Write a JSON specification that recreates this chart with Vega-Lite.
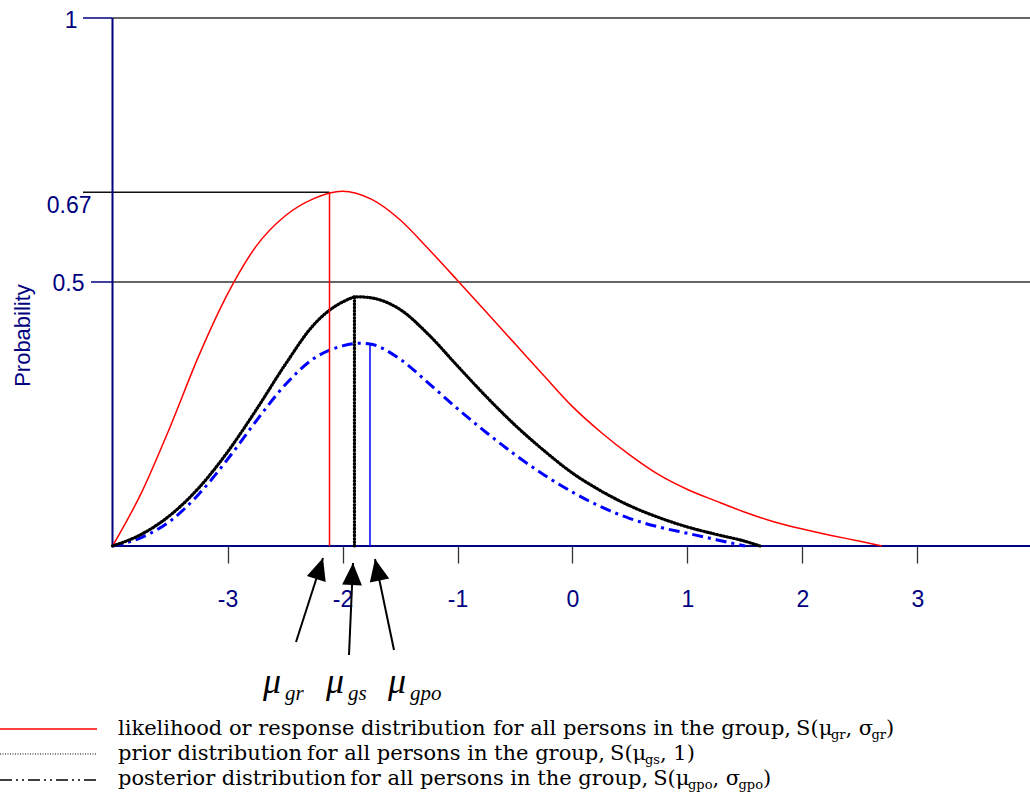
{
  "$schema": "https://vega.github.io/schema/vega-lite/v6.json",
  "width": 1030,
  "height": 804,
  "autosize": {"type": "none"},
  "padding": 0,
  "background": "white",
  "config": {"view": {"stroke": null}},
  "datasets": {
    "curves": [
      {"series": "likelihood", "x": -4.0, "y": 0.0},
      {"series": "likelihood", "x": -3.75, "y": 0.1},
      {"series": "likelihood", "x": -3.5, "y": 0.225},
      {"series": "likelihood", "x": -3.25, "y": 0.36},
      {"series": "likelihood", "x": -3.0, "y": 0.477},
      {"series": "likelihood", "x": -2.75, "y": 0.568},
      {"series": "likelihood", "x": -2.5, "y": 0.625},
      {"series": "likelihood", "x": -2.25, "y": 0.658},
      {"series": "likelihood", "x": -2.0, "y": 0.672},
      {"series": "likelihood", "x": -1.75, "y": 0.657},
      {"series": "likelihood", "x": -1.5, "y": 0.618},
      {"series": "likelihood", "x": -1.25, "y": 0.562},
      {"series": "likelihood", "x": -1.0, "y": 0.503},
      {"series": "likelihood", "x": -0.75, "y": 0.443},
      {"series": "likelihood", "x": -0.5, "y": 0.383},
      {"series": "likelihood", "x": -0.25, "y": 0.323},
      {"series": "likelihood", "x": 0.0, "y": 0.264},
      {"series": "likelihood", "x": 0.25, "y": 0.215},
      {"series": "likelihood", "x": 0.5, "y": 0.172},
      {"series": "likelihood", "x": 0.75, "y": 0.135},
      {"series": "likelihood", "x": 1.0, "y": 0.107},
      {"series": "likelihood", "x": 1.25, "y": 0.085},
      {"series": "likelihood", "x": 1.5, "y": 0.064},
      {"series": "likelihood", "x": 1.75, "y": 0.046},
      {"series": "likelihood", "x": 2.0, "y": 0.032},
      {"series": "likelihood", "x": 2.25, "y": 0.02},
      {"series": "likelihood", "x": 2.5, "y": 0.009},
      {"series": "likelihood", "x": 2.69, "y": 0.0},
      {"series": "prior", "x": -4.0, "y": 0.0},
      {"series": "prior", "x": -3.75, "y": 0.022},
      {"series": "prior", "x": -3.5, "y": 0.058},
      {"series": "prior", "x": -3.25, "y": 0.11},
      {"series": "prior", "x": -3.0, "y": 0.178},
      {"series": "prior", "x": -2.75, "y": 0.258},
      {"series": "prior", "x": -2.5, "y": 0.343},
      {"series": "prior", "x": -2.25, "y": 0.419},
      {"series": "prior", "x": -2.0, "y": 0.462},
      {"series": "prior", "x": -1.87, "y": 0.472},
      {"series": "prior", "x": -1.75, "y": 0.47},
      {"series": "prior", "x": -1.5, "y": 0.448},
      {"series": "prior", "x": -1.25, "y": 0.4},
      {"series": "prior", "x": -1.0, "y": 0.341},
      {"series": "prior", "x": -0.75, "y": 0.283},
      {"series": "prior", "x": -0.5, "y": 0.229},
      {"series": "prior", "x": -0.25, "y": 0.181},
      {"series": "prior", "x": 0.0, "y": 0.138},
      {"series": "prior", "x": 0.25, "y": 0.104},
      {"series": "prior", "x": 0.5, "y": 0.076},
      {"series": "prior", "x": 0.75, "y": 0.054},
      {"series": "prior", "x": 1.0, "y": 0.036},
      {"series": "prior", "x": 1.25, "y": 0.022},
      {"series": "prior", "x": 1.5, "y": 0.009},
      {"series": "prior", "x": 1.63, "y": 0.0},
      {"series": "posterior", "x": -4.0, "y": 0.0},
      {"series": "posterior", "x": -3.75, "y": 0.016},
      {"series": "posterior", "x": -3.5, "y": 0.047},
      {"series": "posterior", "x": -3.25, "y": 0.098},
      {"series": "posterior", "x": -3.0, "y": 0.164},
      {"series": "posterior", "x": -2.75, "y": 0.237},
      {"series": "posterior", "x": -2.5, "y": 0.305},
      {"series": "posterior", "x": -2.25, "y": 0.355},
      {"series": "posterior", "x": -2.0, "y": 0.379},
      {"series": "posterior", "x": -1.85, "y": 0.384},
      {"series": "posterior", "x": -1.75, "y": 0.382},
      {"series": "posterior", "x": -1.5, "y": 0.354},
      {"series": "posterior", "x": -1.25, "y": 0.308},
      {"series": "posterior", "x": -1.0, "y": 0.26},
      {"series": "posterior", "x": -0.75, "y": 0.215},
      {"series": "posterior", "x": -0.5, "y": 0.173},
      {"series": "posterior", "x": -0.25, "y": 0.135},
      {"series": "posterior", "x": 0.0, "y": 0.102},
      {"series": "posterior", "x": 0.25, "y": 0.074},
      {"series": "posterior", "x": 0.5, "y": 0.052},
      {"series": "posterior", "x": 0.75, "y": 0.036},
      {"series": "posterior", "x": 1.0, "y": 0.024},
      {"series": "posterior", "x": 1.25, "y": 0.012},
      {"series": "posterior", "x": 1.5, "y": 0.0}
    ],
    "grid": [
      {"x": -4, "x2": 3.9783, "y": 1, "y2": 1},
      {"x": -4, "x2": 3.9783, "y": 0.5, "y2": 0.5}
    ],
    "refline": [
      {"x": -4.2565, "x2": -2.113, "y": 0.67, "y2": 0.67}
    ],
    "navyticks": [
      {"x": -4.2565, "x2": -4, "y": 1, "y2": 1},
      {"x": -4.187, "x2": -4, "y": 0.5, "y2": 0.5}
    ],
    "axislines": [
      {"x": -4, "x2": 3.9783, "y": 0, "y2": 0},
      {"x": -4, "x2": -4, "y": 0, "y2": 1}
    ],
    "markerRed": [{"x": -2.113, "x2": -2.113, "y": 0, "y2": 0.67}],
    "markerBlack": [{"x": -1.896, "x2": -1.896, "y": 0, "y2": 0.472}],
    "markerBlue": [{"x": -1.761, "x2": -1.761, "y": 0, "y2": 0.381}],
    "shafts": [
      {"x": -2.4043, "y": -0.1818, "x2": -2.1696, "y2": -0.0227},
      {"x": -1.9435, "y": -0.2064, "x2": -1.9087, "y2": -0.0322},
      {"x": -1.5522, "y": -0.197, "x2": -1.7174, "y2": -0.0246}
    ],
    "heads": [
      {"x": -2.1696, "y": -0.0227, "angle": 17.8},
      {"x": -1.9087, "y": -0.0322, "angle": 2.5},
      {"x": -1.7174, "y": -0.0246, "angle": 348.2}
    ],
    "mu": [
      {"x": -2.691, "y": -0.2784, "t": "μ"},
      {"x": -2.143, "y": -0.2784, "t": "μ"},
      {"x": -1.604, "y": -0.2784, "t": "μ"}
    ],
    "musub": [
      {"x": -2.5, "y": -0.2917, "t": "gr"},
      {"x": -1.952, "y": -0.2917, "t": "gs"},
      {"x": -1.413, "y": -0.2917, "t": "gpo"}
    ],
    "legRed": [{"x": -4.9783, "x2": -4.1348, "y": -0.3466, "y2": -0.3466}],
    "legDot": [{"x": -4.9783, "x2": -4.1348, "y": -0.3939, "y2": -0.3939}],
    "legDash": [{"x": -4.9783, "x2": -4.1087, "y": -0.4432, "y2": -0.4432}],
    "legText": [
      {"x": -3.9522, "y": -0.35795, "t": "likelihood or response distribution"},
      {"x": -0.6896, "y": -0.35795, "t": "for all persons in the group,"},
      {"x": 1.9443, "y": -0.35795, "t": "S(μ"},
      {"x": 2.3739, "y": -0.35795, "t": ", σ"},
      {"x": 2.7261, "y": -0.35795, "t": ")"},
      {"x": -3.9522, "y": -0.4053, "t": "prior distribution"},
      {"x": -2.3078, "y": -0.4053, "t": "for all persons in the group,"},
      {"x": 0.3261, "y": -0.4053, "t": "S(μ"},
      {"x": 0.7609, "y": -0.4053, "t": ", 1)"},
      {"x": -3.9522, "y": -0.45265, "t": "posterior distribution"},
      {"x": -1.9322, "y": -0.45265, "t": "for all persons in the group,"},
      {"x": 0.7017, "y": -0.45265, "t": "S(μ"},
      {"x": 1.2174, "y": -0.45265, "t": ", σ"},
      {"x": 1.6565, "y": -0.45265, "t": ")"}
    ],
    "legSub": [
      {"x": 2.2478, "y": -0.36553, "t": "gr"},
      {"x": 2.6, "y": -0.36553, "t": "gr"},
      {"x": 0.6304, "y": -0.41288, "t": "gs"},
      {"x": 1.0043, "y": -0.46023, "t": "gpo"},
      {"x": 1.4435, "y": -0.46023, "t": "gpo"}
    ]
  },
  "encoding": {
    "x": {
      "field": "x",
      "type": "quantitative",
      "scale": {"domain": [-4.9783, 3.9783], "nice": false, "zero": false},
      "axis": {
        "values": [-3, -2, -1, 0, 1, 2, 3],
        "offset": -258,
        "domain": false,
        "grid": false,
        "ticks": true,
        "tickSize": 17,
        "tickColor": "#333333",
        "tickWidth": 1.3,
        "labelExpr": "datum.value + ''",
        "labelFont": "Liberation Sans",
        "labelFontSize": 23,
        "labelColor": "#000080",
        "labelPadding": 36,
        "labelBaseline": "middle",
        "labelFlush": false,
        "labelOverlap": false,
        "title": null
      }
    },
    "y": {
      "field": "y",
      "type": "quantitative",
      "scale": {"domain": [-0.48864, 1.03409], "nice": false, "zero": false},
      "axis": {
        "values": [0.5, 0.67, 1],
        "offset": -112,
        "domain": false,
        "ticks": false,
        "grid": false,
        "labelExpr": "datum.value + ''",
        "labelFont": "Liberation Sans",
        "labelFontSize": 23,
        "labelColor": "#000080",
        "labelPadding": {"condition": [{"test": "datum.value == 1", "value": 35}, {"test": "datum.value == 0.5", "value": 28}], "value": 21},
        "labelOffset": {"condition": [{"test": "datum.value == 1", "value": 3}, {"test": "datum.value == 0.5", "value": 2}], "value": 13},
        "labelOverlap": false,
        "labelFlush": false,
        "title": "Probability",
        "titleFont": "Liberation Sans",
        "titleFontSize": 22,
        "titleFontWeight": "normal",
        "titleColor": "#000080",
        "titleX": -90,
        "titleY": 335,
        "titleAngle": -90,
        "titleAlign": "center",
        "titleBaseline": "middle"
      }
    }
  },
  "layer": [
    {"data": {"name": "grid"}, "mark": {"type": "rule", "color": "#333333", "strokeWidth": 1.3},
     "encoding": {"x2": {"field": "x2"}, "y2": {"field": "y2"}}},
    {"data": {"name": "refline"}, "mark": {"type": "rule", "color": "#111111", "strokeWidth": 1.3},
     "encoding": {"x2": {"field": "x2"}, "y2": {"field": "y2"}}},
    {"data": {"name": "navyticks"}, "mark": {"type": "rule", "color": "#000080", "strokeWidth": 1.5},
     "encoding": {"x2": {"field": "x2"}, "y2": {"field": "y2"}}},
    {"data": {"name": "axislines"}, "mark": {"type": "rule", "color": "#000080", "strokeWidth": 2},
     "encoding": {"x2": {"field": "x2"}, "y2": {"field": "y2"}}},
    {"data": {"name": "curves"}, "transform": [{"filter": "datum.series == 'likelihood'"}],
     "mark": {"type": "line", "color": "#ff0000", "strokeWidth": 1.5, "interpolate": "monotone"},
     "encoding": {}},
    {"data": {"name": "curves"}, "transform": [{"filter": "datum.series == 'posterior'"}],
     "mark": {"type": "line", "color": "#0000ff", "strokeWidth": 3, "strokeDash": [11, 5, 3, 5], "interpolate": "monotone"},
     "encoding": {}},
    {"data": {"name": "curves"}, "transform": [{"filter": "datum.series == 'prior'"}],
     "mark": {"type": "line", "color": "#000000", "strokeWidth": 3.2, "strokeDash": [1, 2.4], "strokeCap": "round", "interpolate": "monotone"},
     "encoding": {}},
    {"data": {"name": "markerRed"}, "mark": {"type": "rule", "color": "#ff0000", "strokeWidth": 1.5},
     "encoding": {"x2": {"field": "x2"}, "y2": {"field": "y2"}}},
    {"data": {"name": "markerBlack"}, "mark": {"type": "rule", "color": "#000000", "strokeWidth": 3.2, "strokeDash": [1, 2.4], "strokeCap": "round"},
     "encoding": {"x2": {"field": "x2"}, "y2": {"field": "y2"}}},
    {"data": {"name": "markerBlue"}, "mark": {"type": "rule", "color": "#0000ff", "strokeWidth": 1.5},
     "encoding": {"x2": {"field": "x2"}, "y2": {"field": "y2"}}},
    {"data": {"name": "shafts"}, "mark": {"type": "rule", "color": "#000000", "strokeWidth": 2},
     "encoding": {"x2": {"field": "x2"}, "y2": {"field": "y2"}}},
    {"data": {"name": "heads"},
     "mark": {"type": "point", "shape": "M0,0L0.45,1L-0.45,1Z", "size": 1936, "filled": true, "opacity": 1, "color": "#000000", "strokeWidth": 0},
     "encoding": {"angle": {"field": "angle", "type": "quantitative", "scale": null}}},
    {"data": {"name": "mu"},
     "mark": {"type": "text", "font": "Liberation Serif", "fontStyle": "italic", "fontSize": 36, "align": "left", "baseline": "alphabetic", "color": "#000000"},
     "encoding": {"text": {"field": "t"}}},
    {"data": {"name": "musub"},
     "mark": {"type": "text", "font": "Liberation Serif", "fontStyle": "italic", "fontSize": 21, "align": "left", "baseline": "alphabetic", "color": "#000000"},
     "encoding": {"text": {"field": "t"}}},
    {"data": {"name": "legRed"}, "mark": {"type": "rule", "color": "#ff0000", "strokeWidth": 1.5},
     "encoding": {"x2": {"field": "x2"}, "y2": {"field": "y2"}}},
    {"data": {"name": "legDot"}, "mark": {"type": "rule", "color": "#000000", "strokeWidth": 1, "strokeDash": [1, 1.5]},
     "encoding": {"x2": {"field": "x2"}, "y2": {"field": "y2"}}},
    {"data": {"name": "legDash"}, "mark": {"type": "rule", "color": "#000000", "strokeWidth": 1.5, "strokeDash": [12, 4, 2, 4, 2, 4]},
     "encoding": {"x2": {"field": "x2"}, "y2": {"field": "y2"}}},
    {"data": {"name": "legText"},
     "mark": {"type": "text", "font": "DejaVu Serif", "fontSize": 21, "align": "left", "baseline": "alphabetic", "color": "#000000"},
     "encoding": {"text": {"field": "t"}}},
    {"data": {"name": "legSub"},
     "mark": {"type": "text", "font": "DejaVu Serif", "fontSize": 13, "align": "left", "baseline": "alphabetic", "color": "#000000"},
     "encoding": {"text": {"field": "t"}}}
  ]
}
